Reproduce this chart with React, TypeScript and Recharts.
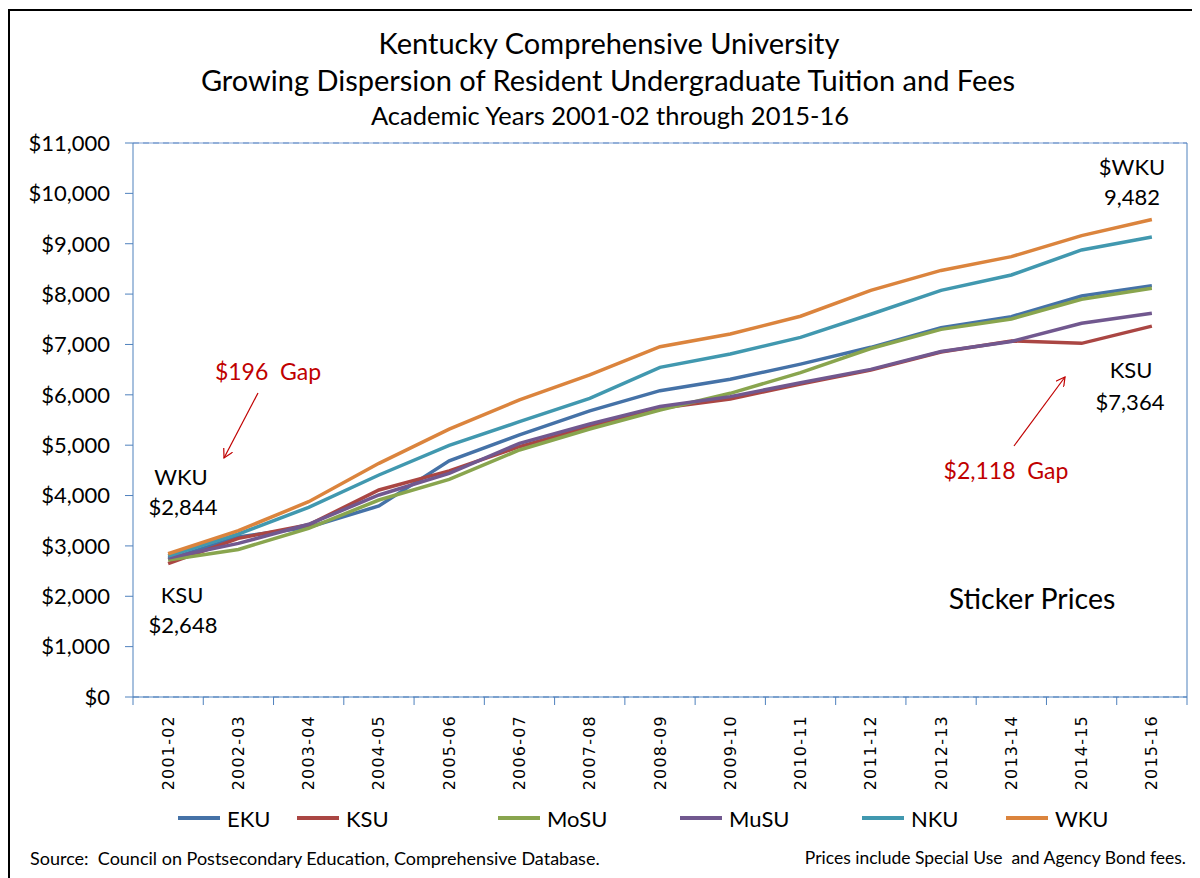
import React from "react"
import {
  CartesianGrid,
  Line,
  LineChart,
  ReferenceLine,
  XAxis,
  YAxis,
} from "recharts"

const years = [
  "2001-02", "2002-03", "2003-04", "2004-05", "2005-06", "2006-07", "2007-08",
  "2008-09", "2009-10", "2010-11", "2011-12", "2012-13", "2013-14", "2014-15", "2015-16",
]

const eku = [2730, 3180, 3370, 3793, 4690, 5203, 5680, 6082, 6308, 6610, 6943, 7330, 7552, 7963, 8168]
const ksu = [2648, 3150, 3420, 4110, 4490, 4970, 5368, 5733, 5918, 6215, 6490, 6850, 7070, 7022, 7364]
const mosu = [2720, 2930, 3350, 3911, 4321, 4905, 5322, 5699, 6030, 6440, 6920, 7300, 7506, 7897, 8115]
const musu = [2760, 3050, 3430, 4011, 4440, 5037, 5421, 5770, 5964, 6240, 6505, 6860, 7060, 7420, 7618]
const nku = [2800, 3237, 3766, 4408, 4995, 5467, 5931, 6545, 6811, 7140, 7600, 8075, 8380, 8876, 9134]
const wku = [2844, 3302, 3878, 4640, 5320, 5898, 6394, 6956, 7208, 7560, 8075, 8470, 8744, 9160, 9482]

const yTicks = [0, 1000, 2000, 3000, 4000, 5000, 6000, 7000, 8000, 9000, 10000, 11000]

const series = [
  { key: "EKU", values: eku, color: "#4572A7" },
  { key: "KSU", values: ksu, color: "#AA4643" },
  { key: "MoSU", values: mosu, color: "#89A54E" },
  { key: "MuSU", values: musu, color: "#71588F" },
  { key: "NKU", values: nku, color: "#4198AF" },
  { key: "WKU", values: wku, color: "#DB843D" },
]

const data = years.map((year, i) => {
  const row: Record<string, number | string> = { year }
  series.forEach((s) => {
    row[s.key] = s.values[i]
  })
  return row
})

// layout (wrapper sits at page 8,8)
const FONT = "Lato, 'Open Sans', sans-serif"
const AXIS = "#4F81BD"
const RED = "#C00000"
const CHART_W = 1184
const CHART_H = 800
const PLOT_LEFT = 125
const PLOT_RIGHT = 1179
const BAND = (PLOT_RIGHT - PLOT_LEFT) / years.length

const p = (v: number) => v - 8

function YearTick(props: any) {
  const { x, y, payload, index } = props
  const half = BAND / 2
  return (
    <g>
      <line x1={x - half} x2={x - half} y1={y} y2={y + 8} stroke={AXIS} />
      {index === years.length - 1 && (
        <line x1={x + half} x2={x + half} y1={y} y2={y + 8} stroke={AXIS} />
      )}
      <text
        transform={`translate(${x},${y + 18}) rotate(-90)`}
        textAnchor="end"
        dominantBaseline="central"
        fontFamily="'DejaVu Sans', sans-serif"
        fontSize={16}
        letterSpacing={1.2}
        fill="#000"
      >
        {payload.value}
      </text>
    </g>
  )
}

function Txt({
  cx,
  cy,
  children,
  size = 22,
  color = "#000",
}: {
  cx: number
  cy: number
  children: React.ReactNode
  size?: number
  color?: string
}) {
  return (
    <div
      style={{
        position: "absolute",
        left: p(cx),
        top: p(cy),
        transform: "translate(-50%, -50%)",
        whiteSpace: "pre",
        fontFamily: FONT,
        fontSize: size,
        lineHeight: 1,
        color,
      }}
    >
      {children}
    </div>
  )
}

function WhiteBox({ x1, y1, x2, y2 }: { x1: number; y1: number; x2: number; y2: number }) {
  return (
    <div
      style={{
        position: "absolute",
        left: p(x1),
        top: p(y1),
        width: x2 - x1,
        height: y2 - y1,
        background: "#fff",
      }}
    />
  )
}

const legendLeft = [178, 297, 498, 680, 862, 1006]

export default function App() {
  return (
    <div
      style={{
        position: "relative",
        width: CHART_W,
        height: 870,
        overflow: "hidden",
        background: "#fff",
        fontFamily: FONT,
      }}
    >
      {/* outer frame */}
      <div style={{ position: "absolute", left: 0, top: 1, width: CHART_W, height: 2, background: "#000" }} />
      <div style={{ position: "absolute", left: 0, top: 1, width: 2, height: 870, background: "#000" }} />

      <Txt cx={609} cy={42} size={29}>Kentucky Comprehensive University</Txt>
      <Txt cx={608} cy={79} size={29}>Growing Dispersion of Resident Undergraduate Tuition and Fees</Txt>
      <Txt cx={610} cy={116} size={25.5}>Academic Years 2001-02 through 2015-16</Txt>

      <div style={{ position: "absolute", left: 0, top: 0 }}>
        <LineChart
          width={CHART_W}
          height={CHART_H}
          data={data}
          margin={{ top: 135, right: 0, left: 10, bottom: 0 }}
        >
          <CartesianGrid vertical={false} stroke={AXIS} strokeDasharray="6 4" />
          <XAxis
            dataKey="year"
            scale="band"
            interval={0}
            height={CHART_H - 135 - 554}
            tickLine={false}
            tickSize={0}
            tickMargin={0}
            axisLine={{ stroke: AXIS }}
            tick={<YearTick />}
          />
          <YAxis
            yAxisId="left"
            width={115}
            domain={[0, 11000]}
            ticks={yTicks}
            interval={0}
            tickSize={8}
            tickMargin={15}
            axisLine={{ stroke: AXIS }}
            tickLine={{ stroke: AXIS }}
            tick={{ fill: "#000", fontSize: 22, fontFamily: FONT }}
            tickFormatter={(v: number) => `$${v.toLocaleString("en-US")}`}
          />
          <YAxis
            yAxisId="right"
            orientation="right"
            width={5}
            domain={[0, 11000]}
            ticks={yTicks}
            interval={0}
            tickSize={4}
            axisLine={{ stroke: AXIS }}
            tickLine={{ stroke: AXIS }}
            tickFormatter={() => ""}
          />
          <ReferenceLine yAxisId="left" y={11000} stroke="#7F9FD3" />
          {series.map((s) => (
            <Line
              key={s.key}
              yAxisId="left"
              type="linear"
              dataKey={s.key}
              stroke={s.color}
              strokeWidth={3.5}
              dot={false}
              isAnimationActive={false}
            />
          ))}
        </LineChart>
      </div>

      {/* label boxes that break the gridlines */}
      <WhiteBox x1={136} y1={458} x2={235} y2={525} />
      <WhiteBox x1={136} y1={578} x2={235} y2={642} />
      <WhiteBox x1={918} y1={580} x2={1147} y2={618} />
      <WhiteBox x1={1079} y1={150} x2={1185} y2={215} />
      <WhiteBox x1={1079} y1={352} x2={1185} y2={420} />

      <Txt cx={181} cy={477}>WKU</Txt>
      <Txt cx={183} cy={507}>$2,844</Txt>
      <Txt cx={182} cy={595}>KSU</Txt>
      <Txt cx={183} cy={625}>$2,648</Txt>
      <Txt cx={1132} cy={167}>$WKU</Txt>
      <Txt cx={1132} cy={197}>9,482</Txt>
      <Txt cx={1131} cy={370}>KSU</Txt>
      <Txt cx={1130} cy={402}>$7,364</Txt>
      <Txt cx={1032} cy={598} size={28.5}>Sticker Prices</Txt>
      <Txt cx={268} cy={371} size={23} color={RED}>{"$196  Gap"}</Txt>
      <Txt cx={1006} cy={470} size={23} color={RED}>{"$2,118  Gap"}</Txt>

      <svg
        width={CHART_W}
        height={870}
        style={{ position: "absolute", left: 0, top: 0, pointerEvents: "none" }}
      >
        <defs>
          <marker id="arr" markerWidth="10" markerHeight="10" refX="9" refY="5" orient="auto" markerUnits="userSpaceOnUse">
            <path d="M0,0 L9,5 L0,10" fill="none" stroke={RED} strokeWidth={1.2} />
          </marker>
        </defs>
        <line x1={p(258)} y1={p(393)} x2={p(224)} y2={p(458)} stroke={RED} strokeWidth={1.2} markerEnd="url(#arr)" />
        <line x1={p(1014)} y1={p(446)} x2={p(1065)} y2={p(377)} stroke={RED} strokeWidth={1.2} markerEnd="url(#arr)" />
      </svg>

      {/* legend */}
      {series.map((s, i) => (
        <div
          key={s.key}
          style={{
            position: "absolute",
            left: p(legendLeft[i]),
            top: p(818) - 12,
            height: 24,
            display: "flex",
            alignItems: "center",
            fontSize: 22,
            color: "#000",
          }}
        >
          <span style={{ display: "inline-block", width: 42, height: 4, background: s.color, marginRight: 7 }} />
          {s.key}
        </div>
      ))}

      <div style={{ position: "absolute", left: p(30), top: p(858) - 10, fontSize: 18, lineHeight: "20px", whiteSpace: "nowrap" }}>
        Source:&nbsp; Council on Postsecondary Education, Comprehensive Database.
      </div>
      <div style={{ position: "absolute", right: CHART_W - p(1186), top: p(858) - 10, fontSize: 17.5, lineHeight: "20px", whiteSpace: "nowrap" }}>
        Prices include Special Use&nbsp; and Agency Bond fees.
      </div>
    </div>
  )
}
